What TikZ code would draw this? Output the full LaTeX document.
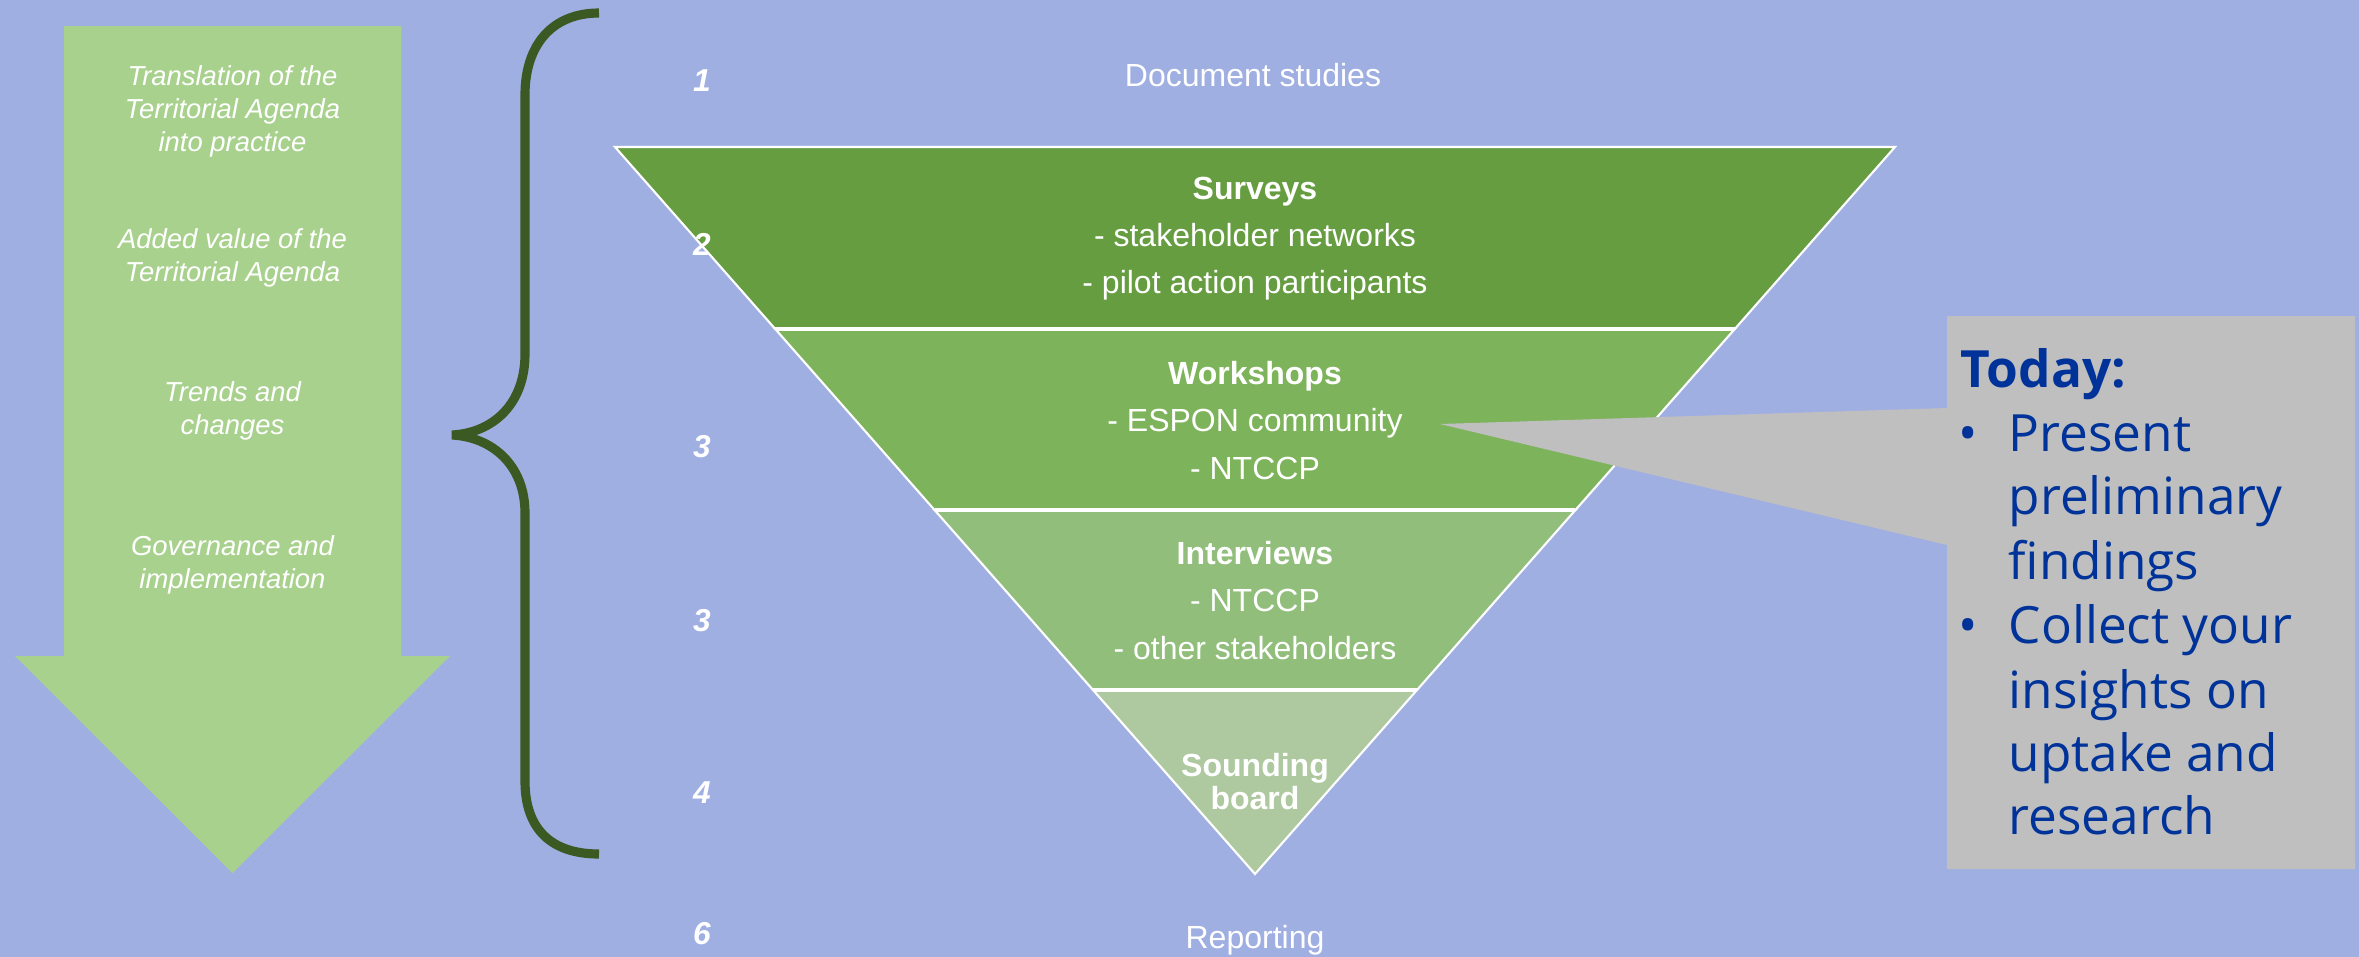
\documentclass[tikz,border=0pt]{standalone}
\usepackage{fontspec}
\setmainfont{Liberation Sans}
\newfontfamily\todayfont{Open Sans}
\definecolor{backdrop}{RGB}{160, 175, 226}
\definecolor{arrowgreen}{RGB}{169, 209, 142}
\definecolor{bracegreen}{RGB}{59, 90, 35}
\definecolor{bandone}{RGB}{102, 157, 65}
\definecolor{bandtwo}{RGB}{125, 179, 90}
\definecolor{bandthree}{RGB}{146, 190, 124}
\definecolor{bandfour}{RGB}{174, 201, 159}
\definecolor{calloutgrey}{RGB}{191, 191, 191}
\definecolor{todayblue}{RGB}{0, 51, 153}

\begin{document}
\begin{tikzpicture}[x=0.01cm, y=-0.01cm,
    topic/.style={text=white, align=center, inner sep=0pt,
                  font=\fontsize{7.8}{9.4}\selectfont\itshape},
    stepnum/.style={text=white, inner sep=0pt,
                    font=\fontsize{9}{11}\selectfont\bfseries\itshape},
    bandtext/.style={text=white, align=center, inner sep=0pt,
                     font=\fontsize{9.1}{13.4}\selectfont},
    todaytext/.style={text=todayblue, inner sep=0pt,
                      font=\todayfont\fontsize{14.6}{18.2}\selectfont}]
  \pgfmathsetmacro{\cx}{1255}
  \pgfmathsetmacro{\tipy}{874}

  \fill[backdrop] (0, 0) rectangle (2359, 957);
  \useasboundingbox (0, 0) rectangle (2359, 957);

  % big arrow on the left
  \fill[arrowgreen] (64, 26) -- (401, 26) -- (401, 656) -- (450, 656)
                 -- (232.5, 873) -- (15, 656) -- (64, 656) -- cycle;
  \node[topic] (translation) at (232.5, 111.5) {Translation of the\\Territorial Agenda\\into practice};
  \node[topic] (addedvalue) at (232.5, 258) {Added value of the\\Territorial Agenda};
  \node[topic] (trends) at (232.5, 411) {Trends and\\changes};
  \node[topic] (governance) at (232.5, 564.5) {Governance and\\implementation};

  % brace
  \draw[bracegreen, line width=2.6pt]
    (599, 13) .. controls (552, 13) and (525, 45) .. (525, 95) -- (525, 354)
    .. controls (525, 405) and (492, 433) .. (452, 435)
    .. controls (492, 437) and (525, 465) .. (525, 513) -- (525, 781)
    .. controls (525, 830) and (552, 854) .. (599, 854);

  % funnel
  \foreach \ytop/\ybot/\col in {147/329/bandone, 329/510/bandtwo, 510/690/bandthree} {
    \filldraw[fill=\col, draw=white, line width=0.6pt]
      ({\cx - 0.8803 * (\tipy - \ytop)}, \ytop) -- ({\cx + 0.8803 * (\tipy - \ytop)}, \ytop)
      -- ({\cx + 0.8803 * (\tipy - \ybot)}, \ybot) -- ({\cx - 0.8803 * (\tipy - \ybot)}, \ybot) -- cycle;
  }
  \filldraw[fill=bandfour, draw=white, line width=0.6pt]
    ({\cx - 0.8803 * (\tipy - 690)}, 690) -- ({\cx + 0.8803 * (\tipy - 690)}, 690)
    -- (\cx, \tipy) -- cycle;
  \foreach \y in {329, 510, 690} {
    \draw[white, line width=1pt] ({\cx - 0.8803 * (\tipy - \y)}, \y) -- ({\cx + 0.8803 * (\tipy - \y)}, \y);
  }

  \node[bandtext] (docs) at (1253, 75) {Document studies};
  \node[bandtext] (surveys) at (\cx, 239) {\textbf{Surveys}\\- stakeholder networks\\- pilot action participants};
  \node[bandtext] (workshops) at (\cx, 420.5) {\textbf{Workshops}\\- ESPON community\\- NTCCP};
  \node[bandtext] (interviews) at (\cx, 600.5) {\textbf{Interviews}\\- NTCCP\\- other stakeholders};
  \node[bandtext, font=\fontsize{9.1}{9.4}\selectfont\bfseries] (sounding) at (\cx, 781.5) {Sounding\\board};
  \node[bandtext] (reporting) at (\cx, 940) {Reporting};

  % step numbers
  \foreach \y/\n [count=\i] in {81/1, 244/2, 447/3, 621/3, 793/4, 934/6} {
    \node[stepnum] (num\i) at (702, \y) {\n};
  }

  % callout
  \coordinate (pointer) at (1440, 424);
  \fill[calloutgrey] (1947, 316) -- (2355, 316) -- (2355, 869) -- (1947, 869)
                  -- (1947, 545) -- (pointer) -- (1947, 408) -- cycle;
  \node[todaytext, anchor=base west, font=\todayfont\fontsize{14.6}{18.2}\selectfont\bfseries]
    (today) at (1960, 387) {Today:};
  \foreach \y/\txt [count=\i] in {451/Present, 514/preliminary, 579/findings,
                                  643/Collect your, 708/insights on, 771/uptake and, 834/research} {
    \node[todaytext, anchor=base west] (line\i) at (2008, \y) {\txt};
  }
  \node[todaytext, anchor=base] (bulletone) at (1968, 451) {\textbullet};
  \node[todaytext, anchor=base] (bullettwo) at (1968, 643) {\textbullet};
\end{tikzpicture}
\end{document}
